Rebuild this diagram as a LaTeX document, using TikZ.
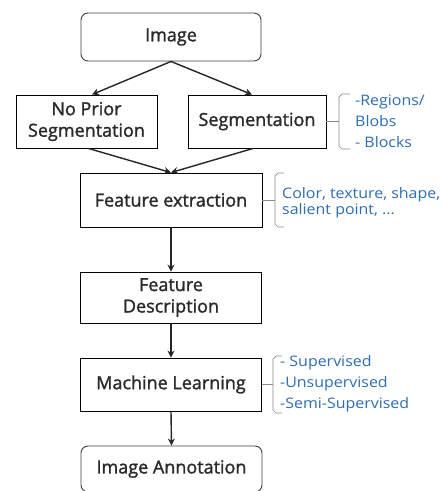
\documentclass[tikz,border=0pt]{standalone}
\usepackage{fontspec}
\setmainfont{Open Sans}
\newfontfamily\boxfont{Open Sans}[FakeBold=1.5]
\newfontfamily\notefont{Open Sans}[FakeStretch=1.1]
\usetikzlibrary{arrows.meta}
\definecolor{txt}{HTML}{2A2A2A}
\definecolor{bluetxt}{HTML}{2E6DB4}
\definecolor{bracegray}{HTML}{8A8A8A}
\tikzset{
  box/.style={draw=black, line width=0.9pt, minimum width=#1, inner sep=0pt, align=center, text=txt, font=\boxfont\fontsize{18}{21.5}\selectfont},
  rbox/.style={box=#1, rounded corners=7pt, draw=black!75},
  conn/.style={-{Stealth[length=7pt,width=7pt]}, line width=1.4pt, black!85},
  note/.style={anchor=west, align=left, text=bluetxt, inner sep=0pt, font=\notefont\fontsize{14.5}{21}\selectfont},
  brc/.style={draw=bracegray, line width=0.7pt}
}
\begin{document}
\begin{tikzpicture}[x=1pt,y=-1pt]
\useasboundingbox (0,0) rectangle (444,491);
\fill[white] (0,0) rectangle (444,491);
\node[rbox=180pt, minimum height=48pt] (img) at (171,37) {Image};
\node[box=141pt, minimum height=53pt] (nps) at (86.5,121.5) {No Prior\\Segmentation};
\node[box=138pt, minimum height=53pt] (seg) at (257,121.5) {Segmentation};
\node[box=182pt, minimum height=54pt] (fe) at (171,200) {Feature extraction};
\node[box=181pt, minimum height=51pt] (fd) at (171,297.5) {Feature\\Description};
\node[box=181pt, minimum height=53pt] (ml) at (171,384.5) {Machine Learning};
\node[rbox=181pt, minimum height=46pt] (ia) at (171.5,469) {Image Annotation};

\draw[conn] (img.south) -- ([xshift=5.5pt]nps.north);
\draw[conn] (img.south) -- ([xshift=-5pt]seg.north);
\draw[conn] ([xshift=2pt]nps.south) -- (fe.north);
\draw[conn] ([xshift=-4pt]seg.south) -- (fe.north);
\draw[conn] (fe.south) -- (fd.north);
\draw[conn] (fd.south) -- (ml.north);
\draw[conn] (ml.south) -- (ia.north);

% brace for segmentation
\coordinate (b1) at (339,121.5);
\draw[brc] (seg.east) -- (b1);
\draw[brc] (350,94) -- (342,94) -- (339,97) -- (339,146) -- (342,149) -- (350,149);
\node[note] (n1) at (355,121) {-Regions/\\Blobs\\- Blocks};

% brace for feature extraction
\coordinate (b2) at (275,200);
\draw[brc] (fe.east) -- (b2);
\draw[brc] (284,173) -- (278,173) -- (275,176) -- (275,224) -- (278,227) -- (284,227);
\node[note, font=\notefont\fontsize{14.5}{16}\selectfont] (n2) at (282,203) {Color, texture, shape,\\salient point, ...};

% brace for machine learning
\coordinate (b3) at (273,384.5);
\draw[brc] (ml.east) -- (b3);
\draw[brc] (282,356) -- (276,356) -- (273,359) -- (273,410) -- (276,413) -- (282,413);
\node[note] (n3) at (280,384) {- Supervised\\-Unsupervised\\-Semi-Supervised};
\end{tikzpicture}
\end{document}
